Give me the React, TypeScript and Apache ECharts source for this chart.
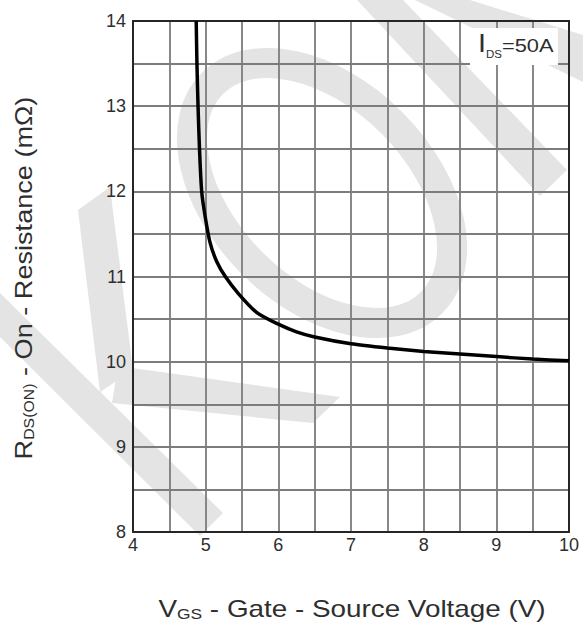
import React, { useEffect, useRef } from "react";
import * as echarts from "echarts";

// Gate-source voltage (V) and the matching on-resistance (mΩ) at I_DS = 50 A
const vgsValues = [4.87, 4.88, 4.895, 4.915, 4.945, 4.99, 5.06, 5.15, 5.27, 5.45, 5.7, 6.0, 6.25, 6.5, 7.0, 7.5, 8.0, 8.5, 9.0, 9.5, 10.0];
const rdsValues = [14.0, 13.5, 13.0, 12.5, 12.0, 11.72, 11.4, 11.18, 11.0, 10.8, 10.58, 10.44, 10.35, 10.29, 10.21, 10.16, 10.12, 10.09, 10.06, 10.03, 10.01];

// Axis ranges; gridlines every half unit, labels on whole units
const xRange = [4, 10];
const yRange = [8, 14];
const gridStep = 0.5;

const FONT = "'Liberation Sans', Arial, Helvetica, sans-serif";
const TEXT = "#2e2e2e";
const WM = "#e4e4e4";
const GRID = "#7c7c7c";
const FRAME = "#262626";

const wholeOnly = (v: number) => (Number.isInteger(v) ? `{n|${v}}` : "");

export default function App() {
  const ref = useRef<HTMLDivElement>(null);

  useEffect(() => {
    if (!ref.current) return;
    const chart = echarts.init(ref.current, undefined, { renderer: "svg" });

    const points = vgsValues.map((v, i) => [v, rdsValues[i]]);

    const tickLabel = {
      formatter: wholeOnly,
      fontSize: 18,
      fontFamily: FONT,
      color: TEXT,
      showMinLabel: true,
      showMaxLabel: true,
      hideOverlap: false,
      rich: {
        n: { fontSize: 18, fontFamily: FONT, color: TEXT, lineHeight: 20 },
      },
    };

    const frameAxis = {
      type: "value",
      axisLine: { show: true, onZero: false, lineStyle: { color: FRAME, width: 2 } },
      axisTick: { show: false },
      axisLabel: { show: false },
      splitLine: { show: false },
    };

    chart.setOption({
      animation: false,
      backgroundColor: "#ffffff",
      textStyle: { fontFamily: FONT, fontSize: 18, color: TEXT },
      grid: { left: 133, top: 21, right: 14, bottom: 98, containLabel: false },
      xAxis: [
        {
          type: "value",
          min: xRange[0],
          max: xRange[1],
          interval: gridStep,
          axisLine: { show: true, onZero: false, lineStyle: { color: FRAME, width: 2 } },
          axisTick: { show: false },
          axisLabel: { ...tickLabel, margin: 3 },
          splitLine: { show: true, lineStyle: { color: GRID, width: 1.8 } },
        },
        { ...frameAxis, min: xRange[0], max: xRange[1], position: "top" },
      ],
      yAxis: [
        {
          type: "value",
          min: yRange[0],
          max: yRange[1],
          interval: gridStep,
          axisLine: { show: true, onZero: false, lineStyle: { color: FRAME, width: 2 } },
          axisTick: { show: false },
          axisLabel: { ...tickLabel, margin: 7 },
          splitLine: { show: true, lineStyle: { color: GRID, width: 1.8 } },
        },
        { ...frameAxis, min: yRange[0], max: yRange[1], position: "right" },
      ],
      series: [
        {
          type: "line",
          data: points,
          showSymbol: false,
          smooth: 0.25,
          clip: true,
          lineStyle: { color: "#000000", width: 3.5 },
          z: 5,
        },
      ],
      graphic: [
        // faint background letters
        {
          type: "group",
          x: 322,
          y: 193,
          rotation: -Math.PI / 4,
          z: -5,
          silent: true,
          children: [
            {
              type: "ellipse",
              shape: { cx: 0, cy: 0, rx: 155, ry: 99 },
              style: { fill: "none", stroke: WM, lineWidth: 30 },
              z: -5,
            },
          ],
        },
        {
          type: "polygon",
          z: -5,
          silent: true,
          shape: { points: [[78, 210], [110, 187], [133, 370], [100, 392]] },
          style: { fill: WM },
        },
        {
          type: "polygon",
          z: -5,
          silent: true,
          shape: { points: [[0, 293], [223, 513], [200, 536], [0, 337]] },
          style: { fill: WM },
        },
        {
          type: "polygon",
          z: -5,
          silent: true,
          shape: { points: [[118, 366], [340, 397], [313, 423], [112, 403]] },
          style: { fill: WM },
        },
        {
          type: "polygon",
          z: -5,
          silent: true,
          shape: { points: [[357, 0], [403, 0], [567, 170], [540, 196]] },
          style: { fill: WM },
        },
        {
          type: "polygon",
          z: -5,
          silent: true,
          shape: { points: [[415, 0], [470, 0], [583, 35], [583, 82]] },
          style: { fill: WM },
        },
        // test-condition note
        {
          type: "rect",
          z: 20,
          silent: true,
          shape: { x: 470, y: 28, width: 88, height: 37 },
          style: { fill: "#ffffff" },
        },
        {
          type: "text",
          z: 21,
          silent: true,
          x: 478,
          y: 44,
          scaleX: 1.15,
          style: {
            text: "{i|I}{s|DS}{t|=50A}",
            align: "left",
            verticalAlign: "middle",
            fill: TEXT,
            fontFamily: FONT,
            rich: {
              i: { fontSize: 25, fontFamily: FONT, fill: TEXT, lineHeight: 30, verticalAlign: "middle" },
              s: { fontSize: 10, fontFamily: FONT, fill: TEXT, lineHeight: 12, verticalAlign: "bottom" },
              t: { fontSize: 19, fontFamily: FONT, fill: TEXT, lineHeight: 30, verticalAlign: "middle", padding: [3, 0, 0, 0] },
            },
          },
        },
        // axis titles
        {
          type: "text",
          z: 21,
          silent: true,
          x: 352,
          y: 607,
          scaleX: 1.16,
          style: {
            text: "{v|V}{s|GS}{t| - Gate - Source Voltage (V)}",
            align: "center",
            verticalAlign: "middle",
            fill: TEXT,
            fontFamily: FONT,
            rich: {
              v: { fontSize: 24, fontFamily: FONT, fill: TEXT, lineHeight: 28, verticalAlign: "bottom" },
              s: { fontSize: 15, fontFamily: FONT, fill: TEXT, lineHeight: 26, verticalAlign: "bottom" },
              t: { fontSize: 24, fontFamily: FONT, fill: TEXT, lineHeight: 28, verticalAlign: "bottom" },
            },
          },
        },
        {
          type: "text",
          z: 21,
          silent: true,
          x: 22,
          y: 278,
          rotation: Math.PI / 2,
          scaleX: 1.13,
          style: {
            text: "{r|R}{s|DS(ON)}{t| - On - Resistance (mΩ)}",
            align: "center",
            verticalAlign: "middle",
            fill: TEXT,
            fontFamily: FONT,
            rich: {
              r: { fontSize: 24, fontFamily: FONT, fill: TEXT, lineHeight: 28, verticalAlign: "bottom" },
              s: { fontSize: 14, fontFamily: FONT, fill: TEXT, lineHeight: 24, verticalAlign: "bottom" },
              t: { fontSize: 24, fontFamily: FONT, fill: TEXT, lineHeight: 28, verticalAlign: "bottom" },
            },
          },
        },
      ],
    });

    return () => chart.dispose();
  }, []);

  return (
    <div
      ref={ref}
      style={{ position: "fixed", left: 0, top: 0, width: 583, height: 630, background: "#fff" }}
    />
  );
}
